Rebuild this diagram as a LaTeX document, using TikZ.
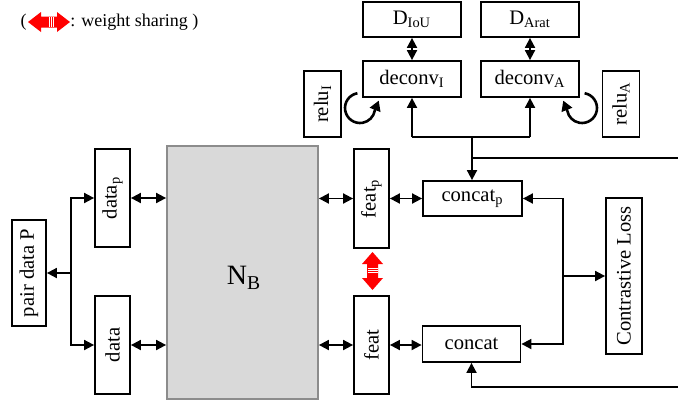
\documentclass[tikz,border=0pt]{standalone}
\usepackage{fontspec}
\setmainfont{Liberation Serif}
\usetikzlibrary{arrows.meta}
\begin{document}
\begin{tikzpicture}[x=0.5pt,y=-0.5pt,
  box/.style={draw, line width=0.9pt, inner sep=0pt, font=\fontsize{10.3}{12}\selectfont},
  tip/.tip={Triangle[length=5pt,width=5pt]},
  arr/.style={line width=0.9pt, -tip},
  darr/.style={line width=0.9pt, tip-tip},
  ln/.style={line width=0.9pt},
  looparr/.style={line width=1.3pt, -{Triangle[length=5pt,width=5.5pt]}},
  legfont/.style={font=\fontsize{9}{10}\selectfont, inner sep=0pt}]
\useasboundingbox (0,0) rectangle (678,402);

% legend
\node[legfont, anchor=east] (lp) at (27,22) {(};
\fill[red] (28,22) -- (41,12) -- (41,16.5) -- (57,16.5) -- (57,12) -- (70,22)
  -- (57,32) -- (57,27.5) -- (41,27.5) -- (41,32) -- cycle;
\foreach \xx in {49,51,53} \draw[white, line width=0.25pt] (\xx,17) -- (\xx,27);
\node[legfont, anchor=west] (lt) at (70,22) {: weight sharing )};

% top
\node[box, minimum width=49pt, minimum height=17.5pt] (DIoU) at (412,19.5) {D\textsubscript{IoU}};
\node[box, minimum width=49pt, minimum height=17.5pt] (DArat) at (530,19.5) {D\textsubscript{Arat}};
\node[box, minimum width=49pt, minimum height=18pt] (deconvI) at (412,79) {deconv\textsubscript{I}};
\node[box, minimum width=49pt, minimum height=18pt] (deconvA) at (530,79) {deconv\textsubscript{A}};
\node[box, minimum width=18.5pt, minimum height=33pt] (reluI) at (322.5,104) {\rotatebox{90}{relu\textsubscript{I}}};
\node[box, minimum width=18.5pt, minimum height=33pt] (reluA) at (621,104) {\rotatebox{90}{relu\textsubscript{A}}};

% main row
\node[box, minimum width=17pt, minimum height=53pt] (pairP) at (29,273) {\rotatebox{90}{pair data P}};
\node[box, minimum width=17.5pt, minimum height=49pt] (datap) at (112.5,198) {\rotatebox{90}{data\textsubscript{p}}};
\node[box, minimum width=17.5pt, minimum height=49pt] (data) at (112.5,345) {\rotatebox{90}{data}};
\node[draw=black!45, fill=black!15, line width=0.9pt, minimum width=75.5pt, minimum height=126.5pt, inner sep=0pt] (NB) at (242.5,272.5) {};
\node[font=\fontsize{14}{16}\selectfont, inner sep=0pt] (NBl) at (244,278) {N\textsubscript{B}};
\node[box, minimum width=17.5pt, minimum height=49.5pt] (featp) at (371.5,198.5) {\rotatebox{90}{feat\textsubscript{p}}};
\node[box, minimum width=17.5pt, minimum height=49pt] (feat) at (371.5,345) {\rotatebox{90}{feat}};
\node[box, minimum width=49.5pt, minimum height=17.5pt] (concatp) at (472.5,198.5) {concat\textsubscript{p}};
\node[box, minimum width=49pt, minimum height=18pt] (concat) at (471.5,344) {concat};
\node[box, minimum width=18pt, minimum height=78pt] (CL) at (624,276) {\rotatebox{90}{Contrastive Loss}};

% red weight sharing arrow
\fill[red] (372.5,252) -- (383,264) -- (378,264) -- (378,278) -- (383,278) -- (372.5,290)
  -- (362,278) -- (367,278) -- (367,264) -- (362,264) -- cycle;
\foreach \yy in {268,270,272} \draw[white, line width=0.25pt] (367.5,\yy) -- (377.5,\yy);

% coordinates
\coordinate (split) at (71,273);
\coordinate (rmid) at (563,276);
\coordinate (tj) at (472,137);
\coordinate (redgeA) at (678,158);
\coordinate (redgeB) at (678,387);

% left connectors
\draw[arr] (split) -- (pairP.east);
\draw[arr] (split) |- (datap.west);
\draw[arr] (split) |- (data.west);
\draw[darr] (datap.east) -- (datap.east -| NB.west);
\draw[darr] (data.east) -- (data.east -| NB.west);
\draw[darr] (NB.east |- featp.west) -- (featp.west);
\draw[darr] (NB.east |- feat.west) -- (feat.west);
\draw[darr] (featp.east) -- (concatp.west);
\draw[darr] (feat.east) -- (feat.east -| concat.west);

% right connectors
\draw[arr] (rmid) |- (concatp.east);
\draw[arr] (rmid) |- (concat.east);
\draw[arr] (rmid) -- (CL.west);

% top connectors
\draw[darr] (DIoU.south) -- (deconvI.north);
\draw[darr] (DArat.south) -- (deconvA.north);
\draw[ln] (deconvI.south |- tj) -- (deconvA.south |- tj);
\draw[arr] (deconvI.south |- tj) -- (deconvI.south);
\draw[arr] (deconvA.south |- tj) -- (deconvA.south);
\draw[arr] (tj) -- (tj |- concatp.north);
\draw[ln] (tj |- redgeA) -- (redgeA);
\draw[arr] (redgeB) -| (concat.south);

% relu loops
\draw[looparr] ([shift={(-100:15)}]360,108) arc[start angle=-100, end angle=-350, radius=15] -- ++(4,-10);
\draw[looparr] ([shift={(-80:15)}]582,108) arc[start angle=-80, end angle=170, radius=15] -- ++(-4,-10);
\end{tikzpicture}
\end{document}
